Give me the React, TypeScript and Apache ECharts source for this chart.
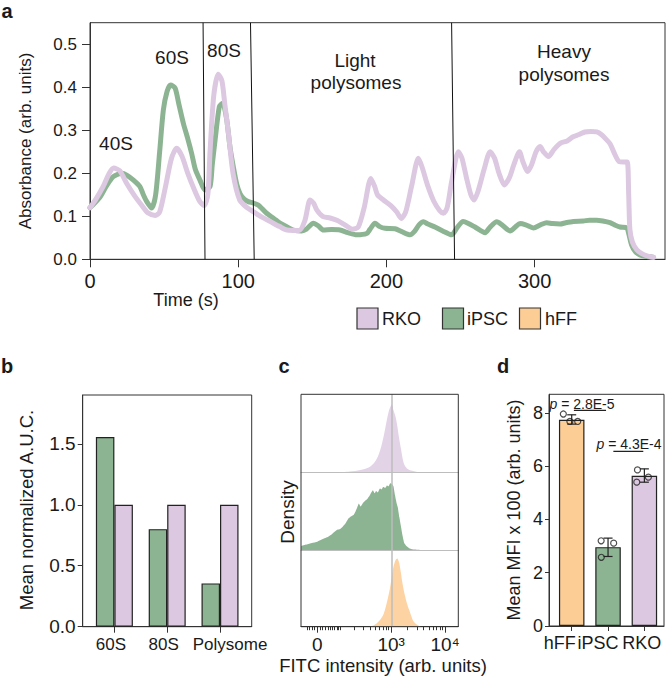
import React, { useEffect, useRef } from 'react';
import * as echarts from 'echarts';

const FONT = '"Liberation Sans", Arial, Helvetica, sans-serif';
const INK = '#1a1a1a';
const AXIS = '#333333';

const C_RKO = '#dcc8e1';
const C_IPSC = '#8db492';
const C_HFF = '#fdcd96';
const C_RKO_AREA = '#e3d3e7';
const C_HFF_AREA = '#fdd3a3';

// ---------- Panel a : polysome profiles ----------
const TIME_TICKS = [0, 100, 200, 300];
const ABS_TICKS = [0, 0.1, 0.2, 0.3, 0.4, 0.5];
const TIME_MAX = 388;
const ABS_MAX = 0.55;

const RKO_PROFILE: [number, number][] = [
  [0, 0.12], [4, 0.14], [9, 0.17], [13, 0.2], [16, 0.212], [20, 0.206], [25, 0.175], [30, 0.148],
  [35, 0.125], [39, 0.108], [44, 0.102], [47, 0.11], [51, 0.17], [55, 0.235], [58.5, 0.258],
  [62, 0.24], [66, 0.2], [70, 0.165], [74, 0.135], [77, 0.125], [79.5, 0.15], [81, 0.25],
  [83.5, 0.38], [86.5, 0.43], [89, 0.415], [91, 0.36], [93.5, 0.29], [96.5, 0.2], [101, 0.138],
  [106, 0.12], [110, 0.111], [116, 0.098], [122, 0.087], [128, 0.076], [133, 0.068], [141, 0.067],
  [145, 0.09], [148.5, 0.138], [151, 0.13], [153, 0.115], [157, 0.1], [162, 0.096], [167, 0.09],
  [172, 0.08], [177, 0.07], [181, 0.075], [185, 0.12], [189.5, 0.188], [192, 0.17], [194, 0.15],
  [198, 0.138], [203, 0.125], [207, 0.11], [210, 0.095], [213, 0.11], [217, 0.17], [221.6, 0.235],
  [224, 0.215], [228, 0.17], [232, 0.135], [236, 0.113], [238.5, 0.107], [241, 0.12], [244, 0.18],
  [248.6, 0.25], [251, 0.235], [254, 0.19], [257, 0.15], [259.2, 0.138], [262, 0.16], [266, 0.21],
  [270, 0.25], [273, 0.235], [276, 0.2], [279.6, 0.173], [283, 0.19], [286, 0.22], [289.8, 0.25],
  [292, 0.228], [295.2, 0.204], [298, 0.22], [301, 0.25], [303.7, 0.262], [306, 0.25], [309.4, 0.239],
  [313, 0.255], [317.5, 0.27], [322, 0.275], [326, 0.285], [330, 0.29], [334, 0.296], [338, 0.297],
  [342, 0.296], [345, 0.29], [348, 0.28], [351, 0.268], [354, 0.245], [357, 0.227], [360, 0.226],
  [362.5, 0.226], [363.5, 0.15], [364.3, 0.07], [366, 0.04], [369, 0.022], [373, 0.012],
  [377, 0.007], [380.4, 0.005],
];

const IPSC_PROFILE: [number, number][] = [
  [0, 0.12], [3, 0.13], [7, 0.146], [11, 0.17], [15.7, 0.192], [21.4, 0.2], [25, 0.195],
  [29.3, 0.184], [33.7, 0.169], [36, 0.15], [38.3, 0.134], [41.6, 0.119], [44.3, 0.15], [47, 0.25],
  [49.5, 0.347], [52, 0.39], [54.4, 0.405], [57.4, 0.398], [60, 0.36], [63, 0.316], [66, 0.28],
  [68.6, 0.246], [71, 0.21], [74.2, 0.184], [77.6, 0.161], [81, 0.169], [82.5, 0.22], [84.4, 0.277],
  [87.3, 0.355], [89.5, 0.363], [92.2, 0.326], [94.5, 0.26], [96.7, 0.215], [99, 0.175],
  [101.2, 0.153], [104, 0.14], [106.8, 0.134], [110, 0.131], [113.6, 0.126], [116, 0.118],
  [119.2, 0.107], [124, 0.095], [128.2, 0.084], [133, 0.075], [137.2, 0.068], [142.9, 0.066],
  [146, 0.07], [150.7, 0.084], [154, 0.078], [157.5, 0.068], [163, 0.069], [168.7, 0.068],
  [174, 0.062], [180, 0.057], [186.7, 0.06], [189, 0.07], [192.3, 0.084], [195.5, 0.076],
  [199.1, 0.072], [205.8, 0.071], [210, 0.065], [216, 0.057], [219, 0.065], [222, 0.08],
  [225, 0.087], [228, 0.082], [232.8, 0.075], [238, 0.066], [244, 0.057], [248, 0.075],
  [251.8, 0.088], [255, 0.084], [259.8, 0.075], [266.6, 0.062], [270, 0.075], [274.5, 0.087],
  [278, 0.08], [283.5, 0.066], [287, 0.075], [290.2, 0.083], [294, 0.08], [299.2, 0.073],
  [304, 0.08], [308.2, 0.085], [312, 0.083], [317.2, 0.082], [321, 0.085], [326.2, 0.088],
  [332.9, 0.089], [337, 0.091], [341.9, 0.091], [346, 0.089], [350.9, 0.085], [354, 0.08],
  [357.7, 0.075], [362.2, 0.073], [363.5, 0.06], [365.5, 0.033], [368, 0.018], [371.1, 0.01],
  [375, 0.007], [380, 0.005],
];

// fraction boundaries (time at top and at bottom of the frame)
const FRACTION_BOUND_TOP = [76.3, 108.3, 244];
const FRACTION_BOUND_BOTTOM = [77.6, 110.8, 246];

// ---------- Panel b : AUC ----------
const AUC_CATEGORIES = ['60S', '80S', 'Polysome'];
const AUC_IPSC = [1.555, 0.8, 0.355];
const AUC_RKO = [1.0, 1.0, 1.0];
const AUC_TICKS = [0, 0.5, 1.0, 1.5];
const AUC_MAX = 1.9;

// ---------- Panel c : FITC densities (x in display units of asinh scale) ----------
const FITC_W = 86;
const fitcPos = (v: number) => Math.asinh(v / FITC_W) / Math.LN10;
const FITC_TICKS = [0, 1000, 10000];
const FITC_TICK_LABELS = ['0', '10\u00b3', '10\u2074'];
const FITC_MINOR_TICKS = [
  -40, -30, -20, -10, 10, 20, 30, 40, 50, 60, 70, 80, 90,
  100, 200, 300, 400, 500, 600, 700, 800, 900,
  2000, 3000, 4000, 5000, 6000, 7000, 8000, 9000,
];
const FITC_REF = 1000;

const DENS_RKO: [number, number][] = [
  [0.4, 0], [0.6, 0.01], [0.8, 0.03], [0.95, 0.06], [1.05, 0.12], [1.12, 0.2], [1.18, 0.32],
  [1.24, 0.5], [1.29, 0.68], [1.33, 0.8], [1.36, 0.85], [1.38, 0.87], [1.41, 0.8], [1.45, 0.71],
  [1.48, 0.6], [1.51, 0.46], [1.55, 0.3], [1.6, 0.12], [1.66, 0.05], [1.76, 0.02], [1.88, 0],
];
const DENS_IPSC: [number, number][] = [
  [-0.3, 0.05], [-0.2, 0.07], [-0.1, 0.09], [0, 0.107], [0.1, 0.14], [0.2, 0.17], [0.28, 0.21],
  [0.33, 0.24], [0.37, 0.26], [0.42, 0.27], [0.47, 0.3], [0.52, 0.34], [0.57, 0.4], [0.62, 0.43],
  [0.67, 0.45], [0.71, 0.5], [0.74, 0.55], [0.77, 0.6], [0.8, 0.56], [0.84, 0.6], [0.88, 0.63],
  [0.93, 0.66], [0.97, 0.7], [1.0, 0.74], [1.03, 0.77], [1.06, 0.73], [1.09, 0.76], [1.12, 0.74],
  [1.16, 0.79], [1.19, 0.78], [1.22, 0.81], [1.26, 0.8], [1.29, 0.83], [1.32, 0.82], [1.35, 0.86],
  [1.38, 0.85], [1.41, 0.82], [1.44, 0.7], [1.47, 0.6], [1.49, 0.55], [1.52, 0.42], [1.55, 0.3],
  [1.58, 0.18], [1.61, 0.09], [1.65, 0.05], [1.71, 0.02], [1.8, 0.005], [1.9, 0],
];
const DENS_HFF: [number, number][] = [
  [0.95, 0], [1.05, 0.02], [1.14, 0.07], [1.23, 0.17], [1.3, 0.35], [1.35, 0.52], [1.41, 0.78],
  [1.45, 0.87], [1.48, 0.89], [1.51, 0.85], [1.54, 0.74], [1.57, 0.6], [1.6, 0.48], [1.65, 0.33],
  [1.7, 0.22], [1.75, 0.12], [1.79, 0.06], [1.86, 0.02], [1.93, 0],
];

// ---------- Panel d : MFI ----------
const MFI_CATEGORIES = ['hFF', 'iPSC', 'RKO'];
const MFI_COLORS = [C_HFF, C_IPSC, C_RKO];
const MFI_MEAN = [7.74, 2.96, 5.64];
const MFI_ERR_LOW = [7.58, 2.61, 5.4];
const MFI_ERR_HIGH = [7.93, 3.3, 5.9];
const MFI_REP_GROUP = [0, 0, 0, 1, 1, 1, 2, 2, 2];
const MFI_REP_JITTER = [-0.23, -0.05, 0.165, -0.19, 0.155, -0.185, -0.19, -0.21, 0.11];
const MFI_REP_VALUE = [7.96, 7.68, 7.68, 3.2, 3.11, 2.58, 5.86, 5.4, 5.59];
const MFI_TICKS = [0, 2, 4, 6, 8];
const MFI_MAX = 8.7;
const P_VALUES = ['2.8E-5', '4.3E-4'];
const P_BRACKET_X: [number, number][] = [[0.06, 0.945], [1.146, 1.97]];
const P_BRACKET_Y = [8.1, 6.56];

// ---------- helpers ----------
const txt = (
  text: string,
  x: number,
  y: number,
  fontSize: number,
  o: { rot?: boolean; bold?: boolean; align?: string; rich?: any } = {}
) => ({
  type: 'text',
  x,
  y,
  rotation: o.rot ? Math.PI / 2 : 0,
  z: 100,
  silent: true,
  style: {
    text,
    x: 0,
    y: 0,
    fontSize,
    fontFamily: FONT,
    fontWeight: o.bold ? 'bold' : 'normal',
    fill: INK,
    align: o.align || 'center',
    verticalAlign: 'middle',
    rich: o.rich,
  },
});

const legendBox = (x: number, color: string) => ({
  type: 'rect',
  z: 100,
  shape: { x, y: 308, width: 21, height: 21 },
  style: { fill: color, stroke: AXIS, lineWidth: 1.2 },
});

const pRich = { i: { fontStyle: 'italic', fontSize: 14, fontFamily: FONT, fill: INK } };

const BASE_GRAPHIC: any[] = [
  // panel letters
  txt('a', 7, 11, 20, { bold: true }),
  txt('b', 7, 366, 20, { bold: true }),
  txt('c', 284, 366, 20, { bold: true }),
  txt('d', 503, 366, 20, { bold: true }),
  // panel a texts
  txt('Absorbance (arb. units)', 25, 141, 17, { rot: true }),
  txt('Time (s)', 186, 300, 18),
  txt('40S', 116, 143, 19),
  txt('60S', 172, 57, 19),
  txt('80S', 224, 50, 19),
  txt('Light', 355, 60, 19),
  txt('polysomes', 356, 82, 19),
  txt('Heavy', 564, 51, 19),
  txt('polysomes', 564, 74, 19),
  // legend
  legendBox(357, C_RKO),
  txt('RKO', 382, 319, 18, { align: 'left' }),
  legendBox(442.5, C_IPSC),
  txt('iPSC', 467, 319, 18, { align: 'left' }),
  legendBox(519.5, C_HFF),
  txt('hFF', 545, 319, 18, { align: 'left' }),
  // panel b
  txt('Mean normalized A.U.C.', 26, 510, 18.5, { rot: true }),
  // panel c
  {
    type: 'rect', z: 50, silent: true,
    shape: { x: 301, y: 394.3, width: 157.3, height: 232.4 },
    style: { fill: 'none', stroke: AXIS, lineWidth: 1 },
  },
  txt('Density', 287, 512, 19, { rot: true }),
  txt('FITC intensity (arb. units)', 383, 665, 18.5),
  // panel d
  txt('Mean MFI x 100 (arb. units)', 514, 510, 18, { rot: true }),
  txt('{i|p} = ' + P_VALUES[0], 582, 403.5, 14, { rich: pRich }),
  txt('{i|p} = ' + P_VALUES[1], 629, 443.5, 14, { rich: pRich }),
];

function buildOption(): any {
  const axisLine = (color = AXIS) => ({ show: true, onZero: false, lineStyle: { color, width: 1 } });
  const label = (fontSize: number, margin: number, extra: any = {}) => ({
    fontSize,
    margin,
    color: INK,
    fontFamily: FONT,
    showMinLabel: true,
    showMaxLabel: true,
    hideOverlap: false,
    ...extra,
  });
  const noSplit = { show: false };

  const grids: any[] = [
    { left: 90, top: 22.7, width: 575, height: 236.6, show: true, borderColor: AXIS, borderWidth: 1 },
    { left: 82.7, top: 395, width: 169, height: 231.7, show: true, borderColor: AXIS, borderWidth: 1 },
    { left: 301, top: 394.3, width: 157.3, height: 78 },
    { left: 301, top: 472.3, width: 157.3, height: 77.7 },
    { left: 301, top: 550, width: 157.3, height: 76.7 },
    { left: 549, top: 394.3, width: 115, height: 231.7, show: true, borderColor: AXIS, borderWidth: 1 },
  ];

  const fitcMin = -0.302;
  const fitcMax = 2.611;

  const xAxes: any[] = [
    {
      gridIndex: 0, type: 'value', position: 'bottom', min: 0, max: TIME_MAX,
      axisLine: axisLine(),
      axisTick: { show: true, length: 8, customValues: TIME_TICKS, lineStyle: { color: AXIS } },
      axisLabel: label(20, 12, { customValues: TIME_TICKS }),
      splitLine: noSplit,
    },
    {
      gridIndex: 1, type: 'value', position: 'bottom', min: -0.6, max: 2.6,
      axisLine: axisLine(),
      axisTick: { show: true, length: 6, customValues: [0, 1, 2], lineStyle: { color: AXIS } },
      axisLabel: label(17, 9, {
        customValues: [0, 1, 2],
        formatter: (v: number) => {
          const i = Math.round(v);
          return i === 2 ? '{r|' + AUC_CATEGORIES[i] + '}' : '{l|' + AUC_CATEGORIES[i] + '}';
        },
        rich: {
          l: { fontSize: 17, fontFamily: FONT, color: INK, padding: [0, 7, 0, 0] },
          r: { fontSize: 17, fontFamily: FONT, color: INK, padding: [0, 0, 0, 20] },
        },
      }),
      splitLine: noSplit,
    },
    {
      gridIndex: 2, type: 'value', position: 'bottom', min: fitcMin, max: fitcMax,
      axisLine: axisLine('#bdbdbd'), axisTick: { show: false }, axisLabel: { show: false }, splitLine: noSplit,
    },
    {
      gridIndex: 3, type: 'value', position: 'bottom', min: fitcMin, max: fitcMax,
      axisLine: axisLine('#bdbdbd'), axisTick: { show: false }, axisLabel: { show: false }, splitLine: noSplit,
    },
    {
      gridIndex: 4, type: 'value', position: 'bottom', min: fitcMin, max: fitcMax,
      axisLine: axisLine(),
      axisTick: { show: true, length: 6, customValues: FITC_TICKS.map(fitcPos), lineStyle: { color: AXIS } },
      axisLabel: label(19, 8, {
        customValues: FITC_TICKS.map(fitcPos),
        formatter: (v: number) => {
          let best = 0;
          FITC_TICKS.forEach((t, i) => {
            if (Math.abs(fitcPos(t) - v) < Math.abs(fitcPos(FITC_TICKS[best]) - v)) best = i;
          });
          return FITC_TICK_LABELS[best];
        },
      }),
      splitLine: noSplit,
    },
    {
      gridIndex: 4, type: 'value', position: 'bottom', offset: 0, min: fitcMin, max: fitcMax,
      axisLine: { show: false, onZero: false },
      axisTick: { show: true, length: 3.5, customValues: FITC_MINOR_TICKS.map(fitcPos), lineStyle: { color: AXIS } },
      axisLabel: { show: false },
      splitLine: noSplit,
    },
    {
      gridIndex: 5, type: 'value', position: 'bottom', min: -0.625, max: 2.54,
      axisLine: axisLine(),
      axisTick: { show: true, length: 5, customValues: [0, 1, 2], lineStyle: { color: AXIS } },
      axisLabel: { show: false },
      splitLine: noSplit,
    },
  ];

  const hiddenY = (gridIndex: number) => ({
    gridIndex, type: 'value', position: 'left', min: 0, max: 1,
    axisLine: { show: false, onZero: false }, axisTick: { show: false }, axisLabel: { show: false }, splitLine: noSplit,
  });

  const yAxes: any[] = [
    {
      gridIndex: 0, type: 'value', position: 'left', min: 0, max: ABS_MAX,
      axisLine: axisLine(),
      axisTick: { show: true, length: 8, customValues: ABS_TICKS, lineStyle: { color: AXIS } },
      axisLabel: label(17, 13, { customValues: ABS_TICKS, formatter: (v: number) => v.toFixed(1) }),
      splitLine: noSplit,
    },
    {
      gridIndex: 1, type: 'value', position: 'left', min: 0, max: AUC_MAX,
      axisLine: axisLine(),
      axisTick: { show: true, length: 5, customValues: AUC_TICKS, lineStyle: { color: AXIS } },
      axisLabel: label(19, 7, { customValues: AUC_TICKS, formatter: (v: number) => v.toFixed(1) }),
      splitLine: noSplit,
    },
    hiddenY(2),
    hiddenY(3),
    hiddenY(4),
    {
      gridIndex: 5, type: 'value', position: 'left', min: 0, max: MFI_MAX,
      axisLine: axisLine(),
      axisTick: { show: true, length: 4, customValues: MFI_TICKS, lineStyle: { color: AXIS } },
      axisLabel: label(18, 6, { customValues: MFI_TICKS, formatter: (v: number) => String(Math.round(v)) }),
      splitLine: noSplit,
    },
  ];

  const refLine = {
    silent: true,
    symbol: 'none',
    label: { show: false },
    lineStyle: { color: '#bdbdbd', type: 'solid', width: 1.5 },
    data: [{ xAxis: fitcPos(FITC_REF) }],
  };

  const series: any[] = [
    // panel a
    {
      name: 'iPSC', type: 'line', xAxisIndex: 0, yAxisIndex: 0, data: IPSC_PROFILE,
      showSymbol: false, smooth: 0.25, z: 2,
      lineStyle: { color: C_IPSC, width: 5, cap: 'round', join: 'round' },
    },
    {
      name: 'RKO', type: 'line', xAxisIndex: 0, yAxisIndex: 0, data: RKO_PROFILE,
      showSymbol: false, smooth: 0.25, z: 3,
      lineStyle: { color: C_RKO, width: 5, cap: 'round', join: 'round' },
    },
    ...FRACTION_BOUND_TOP.map((t, i) => ({
      type: 'line', xAxisIndex: 0, yAxisIndex: 0, z: 4, showSymbol: false, silent: true,
      data: [[t, ABS_MAX], [FRACTION_BOUND_BOTTOM[i], 0]],
      lineStyle: { color: '#111', width: 1 },
    })),
    // panel b
    {
      name: 'iPSC', type: 'bar', xAxisIndex: 1, yAxisIndex: 1, barWidth: 18.5, barGap: '0%',
      data: AUC_IPSC.map((v, i) => [i, v]),
      itemStyle: { color: C_IPSC, borderColor: '#222', borderWidth: 1.2 },
    },
    {
      name: 'RKO', type: 'bar', xAxisIndex: 1, yAxisIndex: 1, barWidth: 18.5, barGap: '0%',
      data: AUC_RKO.map((v, i) => [i, v]),
      itemStyle: { color: C_RKO, borderColor: '#222', borderWidth: 1.2 },
    },
    // panel c
    {
      name: 'RKO', type: 'line', xAxisIndex: 2, yAxisIndex: 2, data: DENS_RKO, showSymbol: false,
      smooth: 0.3, lineStyle: { width: 0 }, areaStyle: { color: C_RKO_AREA, opacity: 1 }, markLine: refLine,
    },
    {
      name: 'iPSC', type: 'line', xAxisIndex: 3, yAxisIndex: 3, data: DENS_IPSC, showSymbol: false,
      smooth: 0.15, lineStyle: { width: 0 }, areaStyle: { color: C_IPSC, opacity: 1 }, markLine: refLine,
    },
    {
      name: 'hFF', type: 'line', xAxisIndex: 4, yAxisIndex: 4, data: DENS_HFF, showSymbol: false,
      smooth: 0.3, lineStyle: { width: 0 }, areaStyle: { color: C_HFF_AREA, opacity: 1 }, markLine: refLine,
    },
    // panel d
    {
      type: 'bar', xAxisIndex: 6, yAxisIndex: 5, barWidth: 25.5,
      data: MFI_MEAN.map((m, i) => ({ value: [i, m], itemStyle: { color: MFI_COLORS[i] } })),
      itemStyle: { borderColor: '#222', borderWidth: 1.2 },
    },
    {
      type: 'custom', xAxisIndex: 6, yAxisIndex: 5, z: 4,
      data: MFI_MEAN.map((_, i) => [i, MFI_ERR_LOW[i], MFI_ERR_HIGH[i]]),
      encode: { x: 0, y: [1, 2] },
      renderItem: (params: any, api: any) => {
        const x = api.value(0);
        const top = api.coord([x, api.value(2)]);
        const bot = api.coord([x, api.value(1)]);
        const hw = 4.5;
        const st = { stroke: '#222', lineWidth: 1.2 };
        return {
          type: 'group',
          children: [
            { type: 'line', shape: { x1: top[0], y1: top[1], x2: bot[0], y2: bot[1] }, style: st },
            { type: 'line', shape: { x1: top[0] - hw, y1: top[1], x2: top[0] + hw, y2: top[1] }, style: st },
            { type: 'line', shape: { x1: bot[0] - hw, y1: bot[1], x2: bot[0] + hw, y2: bot[1] }, style: st },
          ],
        };
      },
    },
    {
      type: 'scatter', xAxisIndex: 6, yAxisIndex: 5, z: 5, symbol: 'circle', symbolSize: 6,
      data: MFI_REP_VALUE.map((v, i) => [MFI_REP_GROUP[i] + MFI_REP_JITTER[i], v]),
      itemStyle: { color: 'rgba(255,255,255,0)', borderColor: '#222', borderWidth: 1.2 },
    },
    ...P_BRACKET_X.map((xs, i) => ({
      type: 'line', xAxisIndex: 6, yAxisIndex: 5, z: 5, showSymbol: false, silent: true,
      data: [[xs[0], P_BRACKET_Y[i]], [xs[1], P_BRACKET_Y[i]]],
      lineStyle: { color: '#222', width: 1.2 },
    })),
  ];

  return {
    animation: false,
    backgroundColor: '#ffffff',
    textStyle: { fontFamily: FONT },
    grid: grids,
    xAxis: xAxes,
    yAxis: yAxes,
    series,
    graphic: BASE_GRAPHIC,
  };
}

export default function App() {
  const ref = useRef<HTMLDivElement>(null);
  useEffect(() => {
    const el = ref.current;
    if (!el) return;
    const chart = echarts.init(el, undefined, { renderer: 'svg' });
    chart.setOption(buildOption());
    // category labels of panel d, at the library's own tick positions, nudged apart as in the figure
    const labelNudge = [-12, -10, -2.6];
    const y0 = chart.convertToPixel({ yAxisIndex: 5 } as any, 0) as unknown as number;
    const mfiLabels = MFI_CATEGORIES.map((name, i) => {
      const x = chart.convertToPixel({ xAxisIndex: 6 } as any, i) as unknown as number;
      return txt(name, x + labelNudge[i], y0 + 17, 18);
    });
    chart.setOption({ graphic: [...BASE_GRAPHIC, ...mfiLabels] });
    return () => chart.dispose();
  }, []);
  return (
    <div
      ref={ref}
      style={{ position: 'absolute', left: 0, top: 0, width: 666, height: 677, background: '#fff' }}
    />
  );
}
